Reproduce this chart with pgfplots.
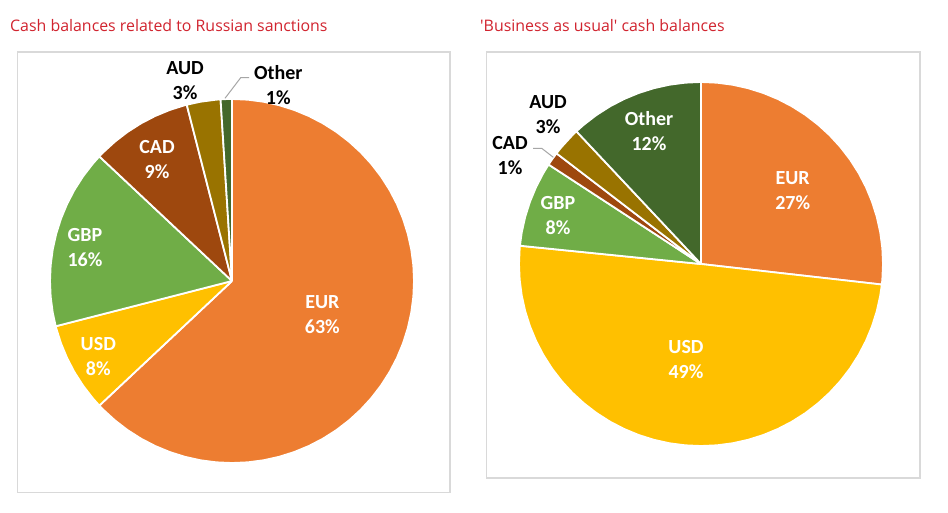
\documentclass[border=0pt]{standalone}
\usepackage{pgfplots}
\pgfplotsset{compat=1.18}
\usepgfplotslibrary{polar}
\usepackage{fontspec}
\setmainfont{Carlito}
\newfontfamily\titlefont{Open Sans}
\definecolor{eur}{HTML}{ED7D31}
\definecolor{usd}{HTML}{FFC000}
\definecolor{gbp}{HTML}{70AD47}
\definecolor{cad}{HTML}{9E480E}
\definecolor{aud}{HTML}{997300}
\definecolor{oth}{HTML}{43682B}
\definecolor{ttl}{RGB}{209,36,47}
\definecolor{frame}{HTML}{D9D9D9}
\definecolor{lead}{HTML}{A6A6A6}
% label: x, y of first line centre (pixels from top), line1, line2, colour
\newcommand{\lab}[5]{%
  \node[anchor=base,text=#5,inner sep=0pt,font=\bfseries\fontsize{20}{24}\selectfont] at (#1pt,{512pt-#2pt-6.5pt}) {#3};
  \node[anchor=base,text=#5,inner sep=0pt,font=\bfseries\fontsize{20}{24}\selectfont] at (#1pt,{512pt-#2pt-6.5pt-25pt}) {#4};}
\pgfplotsset{pie/.style={width=364pt,height=364pt,scale only axis,
  xmin=-1,xmax=1,ymin=-1,ymax=1,hide axis,clip=false,anchor=center},
  slice/.style={data cs=polar,draw=white,line width=1.8pt,line join=round,fill=#1,mark=none}}
\begin{document}
\begin{tikzpicture}
\fill[white] (0,0) rectangle (948pt,512pt);
\path[use as bounding box] (0,0) rectangle (948pt,512pt);
% frames
\draw[frame,line width=1.2pt] (17.5pt,19.5pt) rectangle (450pt,460pt);
\draw[frame,line width=1.2pt] (486.5pt,34pt) rectangle (920pt,460pt);
% titles
\node[anchor=base west,inner sep=0pt,text=ttl,font=\titlefont\fontsize{15.9}{18}\selectfont] at (10pt,480.5pt) {Cash balances related to Russian sanctions};
\node[anchor=base west,inner sep=0pt,text=ttl,font=\titlefont\fontsize{15.9}{18}\selectfont] at (480pt,480.5pt) {'Business as usual' cash balances};
% left pie: EUR 63, USD 8, GBP 16, CAD 9, AUD 3, Other 1 (angles in degrees, clockwise from top)
\begin{axis}[pie,at={(232pt,231pt)}]
\addplot[slice=eur] coordinates {(0,0) (90,1) (85,1) (80,1) (75,1) (70,1) (65,1) (60,1) (55,1) (50,1) (45,1) (40,1) (35,1) (30,1) (25,1) (20,1) (15,1) (10,1) (5,1) (0,1) (-5,1) (-10,1) (-15,1) (-20,1) (-25,1) (-30,1) (-35,1) (-40,1) (-45,1) (-50,1) (-55,1) (-60,1) (-65,1) (-70,1) (-75,1) (-80,1) (-85,1) (-90,1) (-95,1) (-100,1) (-105,1) (-110,1) (-115,1) (-120,1) (-125,1) (-130,1) (-135,1) (-136.8,1) (0,0)};
\addplot[slice=usd] coordinates {(0,0) (-136.8,1) (-140,1) (-145,1) (-150,1) (-155,1) (-160,1) (-165,1) (-165.6,1) (0,0)};
\addplot[slice=gbp] coordinates {(0,0) (-165.6,1) (-170,1) (-175,1) (-180,1) (-185,1) (-190,1) (-195,1) (-200,1) (-205,1) (-210,1) (-215,1) (-220,1) (-223.2,1) (0,0)};
\addplot[slice=cad] coordinates {(0,0) (-223.2,1) (-225,1) (-230,1) (-235,1) (-240,1) (-245,1) (-250,1) (-255,1) (-255.6,1) (0,0)};
\addplot[slice=aud] coordinates {(0,0) (-255.6,1) (-260,1) (-265,1) (-266.4,1) (0,0)};
\addplot[slice=oth] coordinates {(0,0) (-266.4,1) (-268,1) (-270,1) (0,0)};
\end{axis}
% right pie: EUR 27, USD 49, GBP 8, CAD 1, AUD 3, Other 12 (angles as drawn)
\begin{axis}[pie,at={(701pt,248pt)}]
\addplot[slice=eur] coordinates {(0,0) (90,1) (85,1) (80,1) (75,1) (70,1) (65,1) (60,1) (55,1) (50,1) (45,1) (40,1) (35,1) (30,1) (25,1) (20,1) (15,1) (10,1) (5,1) (0,1) (-5,1) (-6.48,1) (0,0)};
\addplot[slice=usd] coordinates {(0,0) (-6.48,1) (-10,1) (-15,1) (-20,1) (-25,1) (-30,1) (-35,1) (-40,1) (-45,1) (-50,1) (-55,1) (-60,1) (-65,1) (-70,1) (-75,1) (-80,1) (-85,1) (-90,1) (-95,1) (-100,1) (-105,1) (-110,1) (-115,1) (-120,1) (-125,1) (-130,1) (-135,1) (-140,1) (-145,1) (-150,1) (-155,1) (-160,1) (-165,1) (-170,1) (-175,1) (-180,1) (-185,1) (-185.76,1) (0,0)};
\addplot[slice=gbp] coordinates {(0,0) (-185.76,1) (-190,1) (-195,1) (-200,1) (-205,1) (-210,1) (-213.12,1) (0,0)};
\addplot[slice=cad] coordinates {(0,0) (-213.12,1) (-215,1) (-217.44,1) (0,0)};
\addplot[slice=aud] coordinates {(0,0) (-217.44,1) (-220,1) (-225,1) (-226.8,1) (0,0)};
\addplot[slice=oth] coordinates {(0,0) (-226.8,1) (-230,1) (-235,1) (-240,1) (-245,1) (-250,1) (-255,1) (-260,1) (-265,1) (-270,1) (0,0)};
\end{axis}
% leader lines
\draw[lead,line width=1pt] (249pt,{512pt-77.7pt}) -- (240.7pt,{512pt-77.7pt}) -- (225pt,{512pt-98.3pt});
\draw[lead,line width=1pt] (533pt,{512pt-148.3pt}) -- (541.7pt,{512pt-148.3pt}) -- (553.3pt,{512pt-157.3pt});
% labels
\lab{322.3}{302.3}{EUR}{63\%}{white}
\lab{98.3}{344}{USD}{8\%}{white}
\lab{85}{235}{GBP}{16\%}{white}
\lab{157}{146.7}{CAD}{9\%}{white}
\lab{185}{68.3}{AUD}{3\%}{black}
\lab{278.3}{73.3}{Other}{1\%}{black}
\lab{792.7}{178.3}{EUR}{27\%}{white}
\lab{686}{347}{USD}{49\%}{white}
\lab{558}{203}{GBP}{8\%}{white}
\lab{510}{142.7}{CAD}{1\%}{black}
\lab{548}{101.7}{AUD}{3\%}{black}
\lab{649}{119}{Other}{12\%}{white}
\end{tikzpicture}
\end{document}
